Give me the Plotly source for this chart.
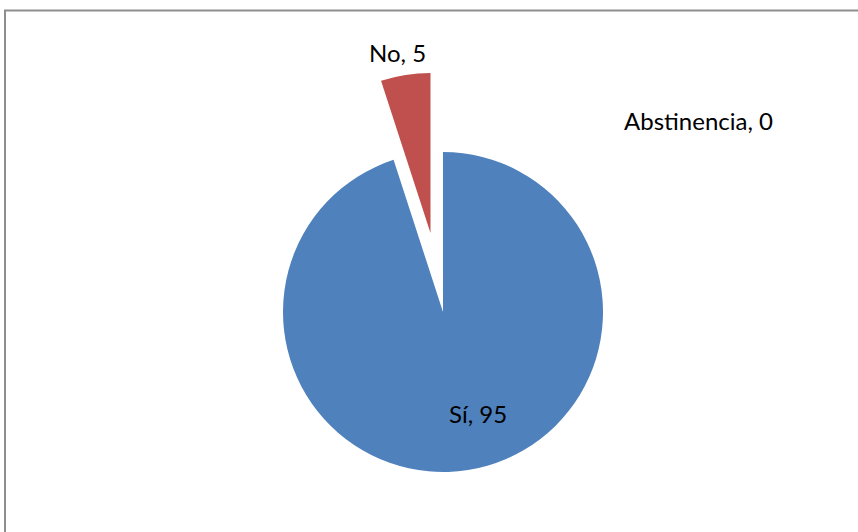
import math
import plotly.graph_objects as go

# Survey answers and their counts
labels = ["Sí", "No", "Abstinencia"]
values = [95, 5, 0]
colors = ["#4F81BD", "#C0504D", "#9BBB59"]
pulls = [0.0, 0.5, 0.0]   # fraction of the radius each slice is exploded by

W, H = 858, 532
cx, cy, r = 443, 312, 160   # pie centre and radius in pixels


def domain_for(center_x, center_y, radius):
    return dict(
        x=[(center_x - radius) / W, (center_x + radius) / W],
        y=[1 - (center_y + radius) / H, 1 - (center_y - radius) / H],
    )


fig = go.Figure()

# Slices that stay in place
base_colors = [c if p == 0 else "rgba(0,0,0,0)" for c, p in zip(colors, pulls)]
fig.add_trace(go.Pie(
    labels=labels, values=values, sort=False, direction="clockwise", rotation=0,
    marker=dict(colors=base_colors, line=dict(width=0)),
    textinfo="none", hoverinfo="label+value", showlegend=False,
    domain=domain_for(cx, cy, r),
))

# Exploded slices: same pie shifted along each slice's bisector
total = sum(values)
cum = 0.0
for i, (v, p) in enumerate(zip(values, pulls)):
    mid = (cum + v / 2) / total * 2 * math.pi
    cum += v
    if p == 0 or v == 0:
        continue
    ox = cx + p * r * math.sin(mid)
    oy = cy - p * r * math.cos(mid)
    only = ["rgba(0,0,0,0)"] * len(values)
    only[i] = colors[i]
    fig.add_trace(go.Pie(
        labels=labels, values=values, sort=False, direction="clockwise", rotation=0,
        marker=dict(colors=only, line=dict(width=0)),
        textinfo="none", hoverinfo="label+value", showlegend=False,
        domain=domain_for(ox, oy, r),
    ))

# Data labels "Category, value"
label_pos = {"Sí": (478, 413), "No": (397, 52), "Abstinencia": (698, 120)}
for lab, val in zip(labels, values):
    px, py = label_pos[lab]
    fig.add_annotation(
        x=px / W, y=1 - py / H, xref="paper", yref="paper",
        text=f"{lab}, {val}", showarrow=False,
        xanchor="center", yanchor="middle",
        font=dict(family="Lato, Open Sans, sans-serif", size=24, color="#000000"),
    )

# Chart area border
fig.add_shape(
    type="rect", xref="paper", yref="paper",
    x0=5 / W, y0=-0.05, x1=1.05, y1=1 - 10.5 / H,
    line=dict(color="#8e8e8e", width=2), fillcolor="rgba(0,0,0,0)",
)

fig.update_layout(
    width=W, height=H,
    margin=dict(l=0, r=0, t=0, b=0),
    paper_bgcolor="white", plot_bgcolor="white",
    showlegend=False,
)

fig.write_html("out.html")
